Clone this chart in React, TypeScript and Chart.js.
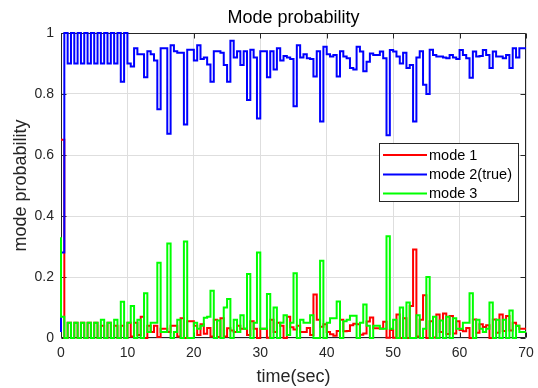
import React, { useEffect, useRef } from "react";
import { Chart, registerables } from "chart.js";

Chart.register(...registerables);

const TIME_STEP = 0.5;
const X_TICKS = [0, 10, 20, 30, 40, 50, 60, 70];
const Y_TICKS = [0, 0.2, 0.4, 0.6, 0.8, 1];
const Y_TICK_LABELS = ["0", "0.2", "0.4", "0.6", "0.8", "1"];
const SERIES_LABELS = ["mode 1", "mode 2(true)", "mode 3"];
const CHART_TITLE = "Mode probability";
const X_TITLE = "time(sec)";
const Y_TITLE = "mode probability";

const MODE1 = [
  0.65, 0.65, 0, 0.05, 0, 0.05, 0, 0.05, 0, 0.05,
  0, 0.05, 0, 0.04, 0, 0.05, 0, 0.04, 0, 0.04,
  0, 0.05, 0.005, 0.05, 0.01, 0.07, 0, 0.04, 0.02, 0.04,
  0.003, 0.03, 0.03, 0.02, 0.04, 0.04, 0.005, 0.065, 0, 0.055,
  0.055, 0.04, 0.01, 0.045, 0.014, 0.033, 0.005, 0.06, 0.003, 0.065,
  0.005, 0.032, 0.025, 0.02, 0.04, 0.03, 0.03, 0.01, 0.055, 0.03,
  0, 0.03, 0.03, 0.001, 0.06, 0.02, 0.05, 0.04, 0, 0.07,
  0.035, 0.028, 0.04, 0.02, 0.02, 0.033, 0.01, 0.143, 0.06, 0.037,
  0.045, 0.02, 0.012, 0.007, 0.023, 0.06, 0.022, 0.023, 0.042, 0.047,
  0.045, 0.011, 0.015, 0.054, 0.067, 0.032, 0.032, 0.031, 0.053, 0.001,
  0.026, 0.001, 0.077, 0, 0.065, 0, 0.105, 0.29, 0.005, 0.06,
  0.14, 0, 0.055, 0.002, 0.077, 0.02, 0.08, 0.013, 0.072, 0.015,
  0.055, 0.026, 0.022, 0.033, 0, 0.061, 0.017, 0.045, 0.036, 0.042,
  0, 0.061, 0.017, 0.077, 0.023, 0.072, 0.025, 0.05, 0.04, 0.03,
];

const MODE2 = [
  0.02, 0.28, 1.0, 0.9, 1.0, 0.9, 1.0, 0.9, 1.0, 0.9,
  1.0, 0.9, 1.0, 0.9, 1.0, 0.9, 1.0, 0.9, 1.0, 0.84,
  1.0, 0.9, 0.89, 0.95, 0.93, 0.93, 0.855, 0.94, 0.93, 0.91,
  0.75, 0.95, 0.95, 0.67, 0.96, 0.94, 0.935, 0.935, 0.7, 0.945,
  0.945, 0.91, 0.96, 0.915, 0.92, 0.897, 0.84, 0.94, 0.94, 0.935,
  0.895, 0.84, 0.975, 0.92, 0.94, 0.895, 0.94, 0.78, 0.945, 0.92,
  0.72, 0.94, 0.94, 0.855, 0.94, 0.88, 0.95, 0.91, 0.925, 0.92,
  0.915, 0.76, 0.96, 0.92, 0.93, 0.917, 0.915, 0.857, 0.94, 0.71,
  0.955, 0.93, 0.923, 0.928, 0.857, 0.94, 0.923, 0.917, 0.885, 0.88,
  0.955, 0.939, 0.875, 0.906, 0.933, 0.928, 0.928, 0.939, 0.917, 0.665,
  0.944, 0.939, 0.923, 0.9, 0.935, 0.885, 0.895, 0.71, 0.92, 0.94,
  0.83, 0.8, 0.945, 0.928, 0.923, 0.923, 0.92, 0.917, 0.928, 0.92,
  0.915, 0.944, 0.928, 0.917, 0.853, 0.939, 0.923, 0.925, 0.944, 0.928,
  0.885, 0.939, 0.923, 0.923, 0.917, 0.928, 0.885, 0.95, 0.92, 0.95,
];

const MODE3 = [
  0.33, 0.07, 0, 0.05, 0, 0.05, 0, 0.05, 0, 0.05,
  0, 0.05, 0, 0.06, 0, 0.05, 0, 0.06, 0, 0.119,
  0, 0.05, 0.105, 0, 0.06, 0, 0.147, 0.02, 0.05, 0.05,
  0.247, 0.02, 0.02, 0.31, 0, 0.02, 0.06, 0, 0.316, 0,
  0, 0.05, 0.03, 0.04, 0.066, 0.07, 0.155, 0, 0.057, 0,
  0.1, 0.128, 0, 0.06, 0.02, 0.075, 0.03, 0.21, 0, 0.05,
  0.28, 0.03, 0.03, 0.144, 0, 0.1, 0, 0.05, 0.075, 0.01,
  0.05, 0.212, 0, 0.06, 0.05, 0.05, 0.075, 0, 0, 0.253,
  0, 0.05, 0.065, 0.065, 0.12, 0, 0.055, 0.06, 0.073, 0.073,
  0, 0.05, 0.11, 0.04, 0, 0.04, 0.04, 0.03, 0.03, 0.334,
  0.03, 0.06, 0, 0.1, 0, 0.116, 0, 0, 0.075, 0,
  0.03, 0.2, 0, 0.07, 0, 0.057, 0, 0.07, 0, 0.065,
  0.03, 0.03, 0.05, 0.05, 0.147, 0, 0.06, 0.03, 0.02, 0.03,
  0.116, 0, 0.06, 0, 0.06, 0, 0.09, 0, 0.04, 0.02,
];

const COLORS = ["#ff0000", "#0000ff", "#00ff00"];
const FONT = "'Liberation Sans', Arial, Helvetica, sans-serif";
const AXIS_COLOR = "#262626";

function toPoints(vals: number[]) {
  const pts = vals.map((v, i) => ({ x: i * TIME_STEP, y: v }));
  pts.push({ x: vals.length * TIME_STEP, y: vals[vals.length - 1] });
  return pts;
}

const decorPlugin = {
  id: "decor",
  beforeDatasetsDraw(chart: any) {
    const { ctx, chartArea: a, scales } = chart;
    ctx.save();
    ctx.strokeStyle = AXIS_COLOR;
    ctx.lineWidth = 1;
    const L = Math.round(a.left) + 0.5;
    const R = Math.round(a.right) - 0.5;
    const T = Math.round(a.top) + 0.5;
    const B = Math.round(a.bottom) - 0.5;
    ctx.beginPath();
    ctx.rect(L, T, R - L, B - T);
    ctx.stroke();
    const tl = 5;
    ctx.beginPath();
    X_TICKS.forEach((v) => {
      const px = Math.round(scales.x.getPixelForValue(v)) + 0.5;
      ctx.moveTo(px, B);
      ctx.lineTo(px, B - tl);
      ctx.moveTo(px, T);
      ctx.lineTo(px, T + tl);
    });
    Y_TICKS.forEach((v) => {
      const py = Math.round(scales.y.getPixelForValue(v)) + 0.5;
      ctx.moveTo(L, py);
      ctx.lineTo(L + tl, py);
      ctx.moveTo(R, py);
      ctx.lineTo(R - tl, py);
    });
    ctx.stroke();
    ctx.restore();
  },
  afterDraw(chart: any) {
    const { ctx, chartArea: a } = chart;
    ctx.save();
    ctx.fillStyle = "#000000";
    ctx.textAlign = "center";
    ctx.textBaseline = "middle";
    ctx.font = `18px ${FONT}`;
    ctx.fillText(CHART_TITLE, (a.left + a.right) / 2, 18);
    ctx.fillStyle = AXIS_COLOR;
    ctx.fillText(X_TITLE, (a.left + a.right) / 2, 377);
    ctx.save();
    ctx.translate(21, (a.top + a.bottom) / 2);
    ctx.rotate(-Math.PI / 2);
    ctx.fillText(Y_TITLE, 0, 0);
    ctx.restore();

    // legend
    const bx = 379.5, by = 143.5, bw = 139, bh = 58;
    ctx.fillStyle = "#ffffff";
    ctx.fillRect(bx, by, bw, bh);
    ctx.strokeStyle = AXIS_COLOR;
    ctx.lineWidth = 1;
    ctx.strokeRect(bx, by, bw, bh);
    const rows = [155, 174.5, 193.5];
    ctx.font = `14.5px ${FONT}`;
    ctx.textAlign = "left";
    SERIES_LABELS.forEach((lab, i) => {
      ctx.strokeStyle = COLORS[i];
      ctx.lineWidth = 2;
      ctx.beginPath();
      ctx.moveTo(383, rows[i]);
      ctx.lineTo(427, rows[i]);
      ctx.stroke();
      ctx.fillStyle = "#000000";
      ctx.fillText(lab, 429, rows[i] + 0.5);
    });
    ctx.restore();
  },
};

export default function App() {
  const ref = useRef<HTMLCanvasElement | null>(null);
  useEffect(() => {
    document.body.style.margin = "0";
    if (!ref.current) return;
    const series = [MODE1, MODE2, MODE3];
    const chart = new Chart(ref.current, {
      type: "line",
      data: {
        datasets: series.map((vals, i) => ({
          label: SERIES_LABELS[i],
          data: toPoints(vals),
          borderColor: COLORS[i],
          backgroundColor: COLORS[i],
          borderWidth: 2,
          pointRadius: 0,
          stepped: "after" as const,
          tension: 0,
          fill: false,
          order: 2 - i,
          clip: 4,
        })),
      },
      options: {
        animation: false,
        responsive: false,
        maintainAspectRatio: false,
        layout: { padding: { left: 0, right: 12, top: 33, bottom: 0 } },
        plugins: {
          legend: { display: false },
          title: { display: false },
          tooltip: { enabled: false },
        },
        scales: {
          x: {
            type: "linear",
            min: 0,
            max: 70,
            afterBuildTicks: (s: any) => {
              s.ticks = X_TICKS.map((v) => ({ value: v }));
            },
            afterFit: (s: any) => {
              s.height = 50;
              s.paddingLeft = 0;
              s.paddingRight = 0;
            },
            grid: { color: "#dedede", drawTicks: false },
            border: { display: false },
            ticks: {
              color: AXIS_COLOR,
              font: { family: FONT, size: 14 },
              padding: 7,
              maxRotation: 0,
            },
          },
          y: {
            type: "linear",
            min: 0,
            max: 1,
            afterBuildTicks: (s: any) => {
              s.ticks = Y_TICKS.map((v) => ({ value: v }));
            },
            afterFit: (s: any) => {
              s.width = 61;
              s.paddingTop = 0;
              s.paddingBottom = 0;
            },
            grid: { color: "#dedede", drawTicks: false },
            border: { display: false },
            ticks: {
              color: AXIS_COLOR,
              font: { family: FONT, size: 14 },
              padding: 7,
              callback: (v: any) => {
                const idx = Y_TICKS.findIndex((t) => Math.abs(t - Number(v)) < 1e-9);
                return idx >= 0 ? Y_TICK_LABELS[idx] : "";
              },
            },
          },
        },
      },
      plugins: [decorPlugin],
    });
    return () => chart.destroy();
  }, []);
  return (
    <div style={{ width: 538, height: 388, background: "#ffffff" }}>
      <canvas ref={ref} width={538} height={388} style={{ display: "block" }} />
    </div>
  );
}
